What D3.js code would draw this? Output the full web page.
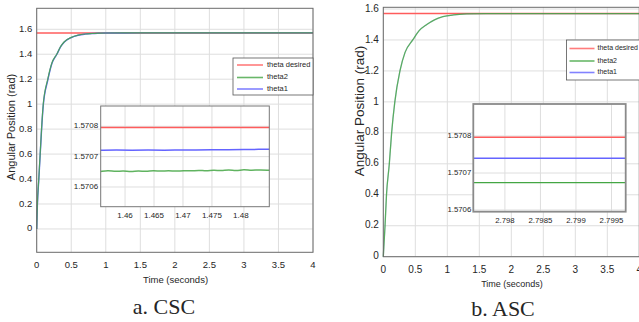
<!DOCTYPE html>
<html><head><meta charset="utf-8">
<script src="https://cdn.jsdelivr.net/npm/d3@7"></script>
<style>body{margin:0;background:#fff}svg{display:block}text{font-family:"Liberation Sans",Arial,sans-serif;fill:#262626}</style>
</head><body><svg id="c" width="639" height="322"></svg>
<script>
// ---------- data ----------
const thetaDesired = 1.5707963;
const seriesNames = ["theta desired", "theta2", "theta1"];
const seriesColors = ["#ff5c5c", "#44a644", "#6464ff"];

// CSC main response
const cscTime   = [0, 0.01, 0.03, 0.05, 0.07, 0.095, 0.16, 0.22, 0.29, 0.35, 0.4, 0.5, 0.6, 0.7, 0.8, 0.9, 1.0, 1.5, 2, 3, 4];
const cscTheta2 = [0, 0.2, 0.4, 0.6, 0.8, 1.0, 1.2, 1.33, 1.4, 1.465, 1.5, 1.535, 1.553, 1.562, 1.566, 1.5685, 1.5700, 1.57065, 1.57065, 1.57065, 1.57065];
const cscTheta1 = [0, 0.19, 0.39, 0.59, 0.79, 0.99, 1.19, 1.325, 1.398, 1.462, 1.498, 1.534, 1.552, 1.561, 1.566, 1.5685, 1.5701, 1.57072, 1.57072, 1.57072, 1.57072];
// CSC inset (zoom)
const cscInsetTimeG = [1.4558, 1.4571, 1.4584, 1.4597, 1.4610, 1.4623, 1.4636, 1.4649, 1.4662, 1.4675, 1.4688, 1.4701, 1.4714, 1.4727, 1.4740, 1.4753, 1.4766, 1.4779, 1.4792, 1.4805, 1.4818, 1.4831, 1.4849];
const cscInsetTheta2 = [1.570651, 1.570655, 1.570650, 1.570654, 1.570649, 1.570654, 1.570650, 1.570655, 1.570651, 1.570655, 1.570651, 1.570655, 1.570652, 1.570656, 1.570652, 1.570656, 1.570653, 1.570657, 1.570653, 1.570658, 1.570654, 1.570657, 1.570655];
const cscInsetTimeB = [1.4558, 1.4585, 1.4612, 1.4640, 1.4668, 1.4695, 1.4722, 1.4750, 1.4778, 1.4805, 1.4832, 1.4849];
const cscInsetTheta1 = [1.570721, 1.570722, 1.570721, 1.570722, 1.570721, 1.570722, 1.570722, 1.570723, 1.570723, 1.570724, 1.570724, 1.570724];

// ASC main response
const ascTime   = [0, 0.027, 0.05, 0.094, 0.13, 0.18, 0.26, 0.34, 0.46, 0.56, 0.68, 0.8, 0.93, 1.1, 1.3, 1.6, 2, 3, 4];
const ascTheta2 = [0, 0.2, 0.4, 0.6, 0.8, 1.0, 1.2, 1.32, 1.4, 1.46, 1.5, 1.53, 1.55, 1.562, 1.568, 1.5704, 1.57067, 1.57067, 1.57067];
const ascTheta1 = ascTheta2.map(v => v);
// ASC inset (zoom)
const ascInsetTime = [2.797555, 2.7997];
const ascInsetTheta2 = [1.570674, 1.570674];
const ascInsetTheta1 = [1.570740, 1.570740];

const mainXTicks = [0, 0.5, 1, 1.5, 2, 2.5, 3, 3.5, 4];
const mainYTicks = [0, 0.2, 0.4, 0.6, 0.8, 1, 1.2, 1.4, 1.6];
const cscInsetXTicks = [1.46, 1.465, 1.47, 1.475, 1.48];
const ascInsetXTicks = [2.798, 2.7985, 2.799, 2.7995];
const insetYTicks = [1.5706, 1.5707, 1.5708];
const captions = ["a. CSC", "b. ASC"];

// ---------- drawing ----------
const svg = d3.select("#c");
const line = (x, y) => d3.line().x(d => x(d[0])).y(d => y(d[1]));
const zip = (a, b) => a.map((v, i) => [v, b[i]]);

function axesBox(g, x, y, xt, yt, o) {
  const [x0, x1] = x.range(), [y0, y1] = y.range();
  g.append("rect").attr("x", x0).attr("y", y1).attr("width", x1 - x0).attr("height", y0 - y1).attr("fill", "#fff");
  g.selectAll(null).data(xt).join("line").attr("x1", d => x(d)).attr("x2", d => x(d)).attr("y1", y0).attr("y2", y1).attr("stroke", "#dedede").attr("stroke-width", 1);
  g.selectAll(null).data(yt).join("line").attr("y1", d => y(d)).attr("y2", d => y(d)).attr("x1", x0).attr("x2", x1).attr("stroke", "#dedede").attr("stroke-width", 1);
  g.selectAll(null).data(xt).join("text").attr("x", d => x(d)).attr("y", y0 + o.xlDy).attr("text-anchor", "middle").attr("dominant-baseline", "middle").attr("font-size", o.fs).text(d => o.xf(d));
  g.selectAll(null).data(yt).join("text").attr("x", x0 - o.ylDx).attr("y", d => y(d)).attr("text-anchor", "end").attr("dominant-baseline", "middle").attr("font-size", o.fs).text(d => o.yf(d));
}
function frame(g, x, y, col, w) {
  const [x0, x1] = x.range(), [y0, y1] = y.range();
  g.append("rect").attr("x", x0).attr("y", y1).attr("width", x1 - x0).attr("height", y0 - y1).attr("fill", "none").attr("stroke", col).attr("stroke-width", w);
}
function legend(g, lx, ly, w, h, rows, o) {
  g.append("rect").attr("x", lx).attr("y", ly).attr("width", w).attr("height", h).attr("fill", "#fff").attr("stroke", "#555").attr("stroke-width", 0.8);
  seriesNames.forEach((n, i) => {
    const yy = rows[i];
    g.append("line").attr("x1", lx + o.l0).attr("x2", lx + o.l1).attr("y1", yy).attr("y2", yy).attr("stroke", seriesColors[i]).attr("stroke-width", 1.6).attr("opacity", 0.8);
    g.append("text").attr("x", lx + o.t0).attr("y", yy).attr("dominant-baseline", "middle").attr("font-size", o.fs).text(n);
  });
}
const fmt = d => String(d);
const smooth = (x, y) => line(x, y).curve(d3.curveMonotoneX);

// ---- Panel a (CSC) ----
{
  const g = svg.append("g");
  const x = d3.scaleLinear().domain([0, 4]).range([36.7, 313]);
  const y = d3.scaleLinear().domain([-0.187, 1.768]).range([252.3, 8.3]);
  axesBox(g, x, y, mainXTicks, mainYTicks, {fs: 9.5, xlDy: 13, ylDx: 4.5, xf: fmt, yf: fmt});
  g.append("path").attr("d", line(x, y)([[0, thetaDesired], [4, thetaDesired]])).attr("stroke", seriesColors[0]).attr("stroke-width", 1.5).attr("fill", "none");
  g.append("path").attr("d", smooth(x, y)(zip(cscTime, cscTheta1))).attr("stroke", seriesColors[2]).attr("stroke-width", 1.4).attr("fill", "none");
  g.append("path").attr("d", smooth(x, y)(zip(cscTime, cscTheta2))).attr("stroke", seriesColors[1]).attr("stroke-width", 1.2).attr("fill", "none").attr("opacity", 0.85);
  frame(g, x, y, "#6b6b6b", 1);
  legend(g, 233, 58, 80, 37, [65, 77.5, 89], {l0: 4, l1: 30, t0: 34, fs: 7.5});
  g.append("text").attr("transform", "translate(12,127) rotate(-90)").attr("text-anchor", "middle").attr("dominant-baseline", "middle").attr("font-size", 11).text("Angular Position (rad)");
  g.append("text").attr("x", 175.5).attr("y", 280).attr("text-anchor", "middle").attr("dominant-baseline", "middle").attr("font-size", 9.5).text("Time (seconds)");
  // inset
  const ix = d3.scaleLinear().domain([1.4558, 1.4849]).range([100.7, 269.3]);
  const iy = d3.scaleLinear().domain([1.570535, 1.570867]).range([206.7, 106]);
  axesBox(g, ix, iy, cscInsetXTicks, insetYTicks, {fs: 8, xlDy: 9.5, ylDx: 2.5, xf: fmt, yf: d => d.toFixed(4)});
  g.append("path").attr("d", line(ix, iy)([[1.4558, thetaDesired], [1.4849, thetaDesired]])).attr("stroke", seriesColors[0]).attr("stroke-width", 1.5).attr("fill", "none");
  g.append("path").attr("d", line(ix, iy).curve(d3.curveBasis)(zip(cscInsetTimeB, cscInsetTheta1))).attr("stroke", seriesColors[2]).attr("stroke-width", 1.5).attr("fill", "none");
  g.append("path").attr("d", line(ix, iy).curve(d3.curveBasis)(zip(cscInsetTimeG, cscInsetTheta2))).attr("stroke", seriesColors[1]).attr("stroke-width", 1.5).attr("fill", "none").attr("opacity", 0.85);
  frame(g, ix, iy, "#777", 1);
  g.append("text").attr("x", 164).attr("y", 314).attr("text-anchor", "middle").attr("font-size", 22).style("font-family", "'Liberation Serif','Times New Roman',serif").text(captions[0]);
}

// ---- Panel b (ASC) ----
{
  const g = svg.append("g");
  const x = d3.scaleLinear().domain([0, 4]).range([383.3, 639.3]);
  const y = d3.scaleLinear().domain([0, 1.611]).range([256.7, 7.3]);
  axesBox(g, x, y, mainXTicks, mainYTicks, {fs: 10, xlDy: 13.5, ylDx: 4.5, xf: fmt, yf: fmt});
  g.append("path").attr("d", line(x, y)([[0, thetaDesired], [4, thetaDesired]])).attr("stroke", seriesColors[0]).attr("stroke-width", 1.5).attr("fill", "none");
  g.append("path").attr("d", smooth(x, y)(zip(ascTime, ascTheta1))).attr("stroke", seriesColors[2]).attr("stroke-width", 1.2).attr("fill", "none").attr("opacity", 0.3);
  g.append("path").attr("d", smooth(x, y)(zip(ascTime, ascTheta2))).attr("stroke", seriesColors[1]).attr("stroke-width", 1.3).attr("fill", "none").attr("opacity", 0.85);
  frame(g, x, y, "#6b6b6b", 1);
  legend(g, 566.5, 40, 80, 40, [48.5, 61, 72.5], {l0: 3, l1: 28, t0: 31, fs: 7});
  g.append("text").attr("transform", "translate(360,111) rotate(-90)").attr("text-anchor", "middle").attr("dominant-baseline", "middle").attr("font-size", 13.5).text("Angular Position (rad)");
  g.append("text").attr("x", 512).attr("y", 285).attr("text-anchor", "middle").attr("dominant-baseline", "middle").attr("font-size", 9).text("Time (seconds)");
  // inset
  const ix = d3.scaleLinear().domain([2.797555, 2.7997]).range([473.3, 625.7]);
  const iy = d3.scaleLinear().domain([1.5705954, 1.5708865]).range([211.7, 104]);
  axesBox(g, ix, iy, ascInsetXTicks, insetYTicks, {fs: 7.8, xlDy: 9.5, ylDx: 2, xf: fmt, yf: d => d.toFixed(4)});
  g.append("path").attr("d", line(ix, iy)([[ascInsetTime[0], thetaDesired], [ascInsetTime[1], thetaDesired]])).attr("stroke", seriesColors[0]).attr("stroke-width", 1.5).attr("fill", "none");
  g.append("path").attr("d", line(ix, iy)(zip(ascInsetTime, ascInsetTheta1))).attr("stroke", seriesColors[2]).attr("stroke-width", 1.4).attr("fill", "none");
  g.append("path").attr("d", line(ix, iy)(zip(ascInsetTime, ascInsetTheta2))).attr("stroke", seriesColors[1]).attr("stroke-width", 1.4).attr("fill", "none");
  frame(g, ix, iy, "#8a8a8a", 1.8);
  g.append("text").attr("x", 503).attr("y", 316).attr("text-anchor", "middle").attr("font-size", 22).style("font-family", "'Liberation Serif','Times New Roman',serif").text(captions[1]);
}
</script></body></html>
